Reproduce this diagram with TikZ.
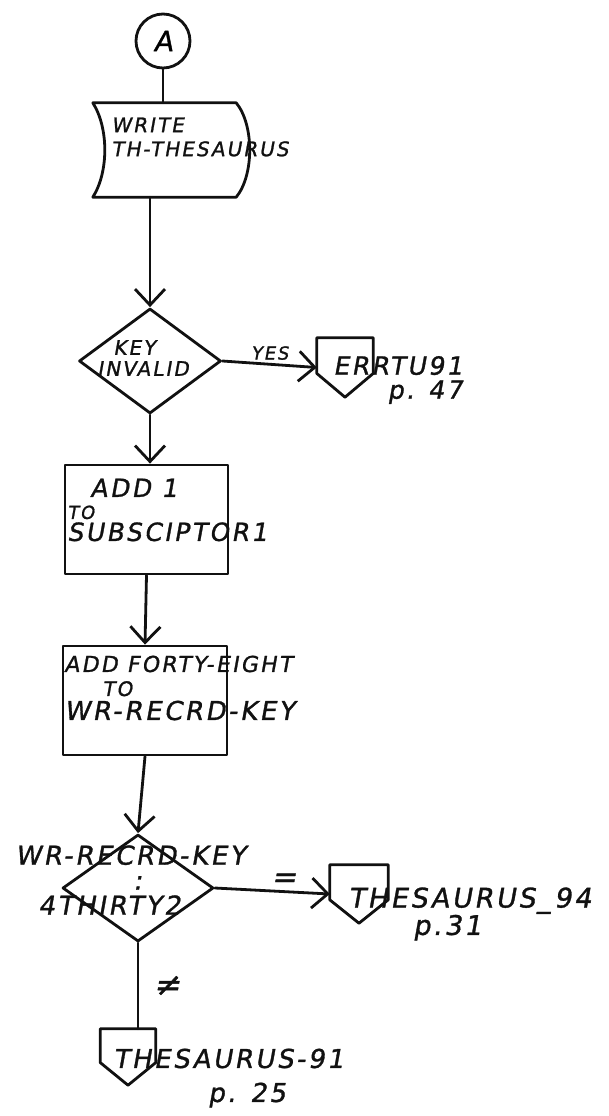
\documentclass[tikz,border=0pt]{standalone}
\usepackage{fontspec}
\usepackage{tikz}
\usetikzlibrary{calc,arrows.meta,positioning,shapes.geometric}
\newfontfamily\handf[LetterSpace=10,FakeSlant=0.18,FakeBold=1.2]{DejaVu Sans}
\newcommand{\hw}[2]{\handf\fontsize{#1}{#2}\selectfont}
\newcommand{\offpg}[1]{\draw[ln] (#1.north west) -- (#1.north east) -- ($(#1.north east)!0.6!(#1.south east)$) -- (#1.south) -- ($(#1.north west)!0.6!(#1.south west)$) -- cycle;}
\definecolor{inkc}{HTML}{111111}
\tikzset{
  ln/.style={line width=2.8pt,draw=inkc,line join=round,line cap=round},
  ar/.style={ln,-{Straight Barb[length=16pt,width=30pt]}},
  slot/.style={inner sep=0pt},
  box/.style={ln,rectangle,inner sep=0pt},
  dia/.style={ln,diamond,inner sep=0pt},
  conn/.style={ln,circle,minimum size=54pt,inner sep=0pt,font=\hw{28}{30}},
  txt/.style 2 args={inner sep=0pt,text=inkc,font=\hw{#1}{#2}}
}
\begin{document}
\begin{tikzpicture}[x=1pt,y=-1pt]
\useasboundingbox (0,0) rectangle (608,1116);
\node[conn] (a) at (163,41) {A};
\node[slot,minimum width=143pt,minimum height=94pt] (wr) at (164.5,150) {};
\draw[ln] (wr.north west) -- (wr.north east) .. controls +(18,22) and +(18,-22) .. (wr.south east) -- (wr.south west) .. controls +(16,-25) and +(16,25) .. (wr.north west) -- cycle;
\node[txt={20}{24},anchor=west,align=left] (wrt) at (111,137) {WRITE\\TH-THESAURUS};
\draw[ln] (a.south) -- (a.south |- wr.north);
\node[dia,minimum width=142pt,minimum height=105pt] (k1) at (150,361) {};
\draw[ar] (k1.north |- wr.south) -- (k1.north);
\node[txt={20}{21},anchor=west,align=left] (k1t) at (97,358) {\hspace*{16pt}KEY\\INVALID};
\node[slot,minimum width=56pt,minimum height=59pt] (err) at (345,367.5) {};
\offpg{err}
\draw[ar] (k1.east) -- node[txt={18}{18},above=3pt] (yes) {YES} (err.west);
\node[txt={25}{24},anchor=west,align=right] (errt) at (333,380) {ERRTU91\\p. 47};
\node[box,minimum width=163pt,minimum height=109pt] (add1) at (146.5,519.5) {};
\draw[ar] (k1.south) -- (k1.south |- add1.north);
\node[txt={25}{22},anchor=west,align=left] (add1t) at (67,510) {\hspace*{23pt}ADD 1\\{\hw{18}{22}TO}\\SUBSCIPTOR1};
\node[box,minimum width=164pt,minimum height=109pt] (add48) at (145,700.5) {};
\draw[ar] (add1.south) -- (add48.north);
\node[txt={26}{24},anchor=west,align=left] (add48t) at (64,688) {{\hw{22}{24}ADD FORTY-EIGHT}\\\hspace*{38pt}{\hw{20}{24}TO}\\WR-RECRD-KEY};
\node[dia,minimum width=151pt,minimum height=107pt] (cmp) at (138,888) {};
\draw[ar] (add48.south) -- (cmp.north);
\node[txt={26}{25},anchor=west,align=left] (cmpt) at (15,880) {WR-RECRD-KEY\\\hspace*{118pt}:\\\hspace*{23pt}4THIRTY2};
\node[slot,minimum width=58pt,minimum height=58pt] (th94) at (359,894) {};
\offpg{th94}
\draw[ar] (cmp.east) -- node[txt={30}{30},above=3pt,pos=0.6] (eq) {=} (th94.west);
\node[txt={27}{26},anchor=west,align=left] (th94t) at (348,914) {THESAURUS\_94\\\hspace*{65pt}p.31};
\node[slot,minimum width=55pt,minimum height=56pt] (th91) at (128,1057) {};
\offpg{th91}
\draw[ln] (cmp.south) -- node[txt={32}{32},right=14pt] (ne) {≠} (cmp.south |- th91.north);
\node[txt={26}{34},anchor=west,align=left] (th91t) at (113,1078) {THESAURUS-91\\\hspace*{95pt}p. 25};
\end{tikzpicture}
\end{document}
